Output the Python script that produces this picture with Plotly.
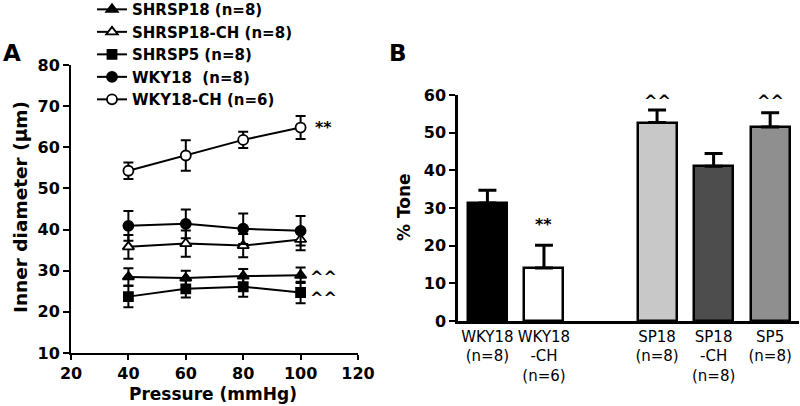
import plotly.graph_objects as go

# ---------- Panel A data ----------
pressure = [40, 60, 80, 100]
shrsp18 = [28.5, 28.2, 28.7, 28.9]
shrsp18_err = [2.1, 1.8, 1.7, 1.9]
shrsp18ch = [35.8, 36.6, 36.1, 37.6]
shrsp18ch_err = [2.9, 3.2, 2.8, 2.6]
shrsp5 = [23.7, 25.6, 26.1, 24.7]
shrsp5_err = [2.6, 2.1, 2.4, 2.6]
wky18 = [40.9, 41.4, 40.2, 39.7]
wky18_err = [3.6, 3.5, 3.7, 3.6]
wky18ch = [54.3, 58.0, 61.8, 64.8]
wky18ch_err = [2.0, 3.7, 2.0, 2.8]

# ---------- Panel B data ----------
bar_pos = [0, 1, 3, 4, 5]
bar_labels = ["WKY18<br>(n=8)", "WKY18<br>-CH<br>(n=6)", "SP18<br>(n=8)",
              "SP18<br>-CH<br>(n=8)", "SP5<br>(n=8)"]
tone = [31.3, 14.1, 52.7, 41.1, 51.5]
tone_err = [3.4, 6.0, 3.3, 3.4, 3.8]
bar_colors = ["#000000", "#ffffff", "#c8c8c8", "#4d4d4d", "#8f8f8f"]

FONT = "DejaVu Sans, Liberation Sans, Arial, sans-serif"

fig = go.Figure()

series = [
    ("SHRSP18 (n=8)", shrsp18, shrsp18_err, "triangle-up", "black"),
    ("SHRSP18-CH (n=8)", shrsp18ch, shrsp18ch_err, "triangle-up", "white"),
    ("SHRSP5 (n=8)", shrsp5, shrsp5_err, "square", "black"),
    ("WKY18\u00a0 (n=8)", wky18, wky18_err, "circle", "black"),
    ("WKY18-CH (n=6)", wky18ch, wky18ch_err, "circle", "white"),
]
for name, vals, errs, sym, fill in series:
    fig.add_trace(go.Scatter(
        x=pressure, y=vals, name=name, mode="lines+markers",
        line=dict(color="black", width=2),
        marker=dict(symbol=sym, size=10 if sym != "square" else 9, color=fill,
                    line=dict(color="black", width=1.8)),
        error_y=dict(type="data", array=errs, visible=True, color="black",
                     thickness=2, width=5),
        xaxis="x", yaxis="y",
    ))

fig.add_trace(go.Bar(
    x=bar_pos, y=tone, width=0.69, showlegend=False,
    marker=dict(color=bar_colors, line=dict(color="black", width=2.5)),
    error_y=dict(type="data", symmetric=False, array=tone_err,
                 arrayminus=[0] * len(tone_err), visible=True,
                 color="black", thickness=3, width=9),
    xaxis="x2", yaxis="y2",
))

axis_common = dict(showline=True, linecolor="black", linewidth=2, ticks="outside",
                   ticklen=6, tickwidth=2, tickcolor="black", showgrid=False,
                   zeroline=False, tickfont=dict(family=FONT, size=16, color="black", weight="bold"))

fig.update_layout(
    width=800, height=406, margin=dict(l=0, r=0, t=0, b=0, autoexpand=False),
    paper_bgcolor="white", plot_bgcolor="white",
    font=dict(family=FONT, color="black"),
    xaxis=dict(domain=[71 / 800, 358 / 800], range=[20, 120], tickvals=[20, 40, 60, 80, 100, 120],
               anchor="y", **axis_common),
    yaxis=dict(domain=[1 - 353 / 406, 1 - 65 / 406], range=[10, 80], tickvals=list(range(10, 81, 10)),
               anchor="x", **axis_common),
    xaxis2=dict(domain=[458 / 800, 799 / 800], range=[-0.52, 5.51], anchor="y2",
                tickvals=bar_pos, ticktext=bar_labels, tickangle=0, showline=True, linecolor="black",
                linewidth=2.5, ticks="", showgrid=False, zeroline=False,
                tickfont=dict(family=FONT, size=15, color="black")),
    yaxis2=dict(domain=[1 - 321 / 406, 1 - 95 / 406], range=[0, 60], tickvals=list(range(0, 61, 10)),
                anchor="x2", **axis_common),
    legend=dict(x=92 / 800, y=1.017, xanchor="left", yanchor="top", bgcolor="rgba(0,0,0,0)",
                font=dict(family=FONT, size=15, color="black", weight="bold"),
                tracegroupgap=0, itemwidth=30),
    bargap=0,
)
fig.update_xaxes(ticklen=5, selector=dict(anchor="y"))
fig.update_layout(yaxis2_linewidth=2.5)

P = "paper"
annots = [
    dict(text="<b>A</b>", x=12 / 800, y=1 - 53 / 406, xref=P, yref=P, size=23, angle=0),
    dict(text="<b>B</b>", x=398 / 800, y=1 - 53 / 406, xref=P, yref=P, size=23, angle=0),
    dict(text="<b>Inner diameter (μm)</b>", x=20 / 800, y=1 - 207 / 406, xref=P, yref=P, size=18.5, angle=-90),
    dict(text="<b>Pressure (mmHg)</b>", x=213 / 800, y=1 - 394 / 406, xref=P, yref=P, size=17, angle=0),
    dict(text="<b>% Tone</b>", x=404 / 800, y=1 - 207 / 406, xref=P, yref=P, size=17, angle=-90),
    dict(text="<b>**</b>", x=108, y=64.8, xref="x", yref="y", size=16, angle=0),
    dict(text="<b>^^</b>", x=108, y=28.5, xref="x", yref="y", size=16, angle=0),
    dict(text="<b>^^</b>", x=108, y=23.6, xref="x", yref="y", size=16, angle=0),
    dict(text="<b>**</b>", x=1, y=25.5, xref="x2", yref="y2", size=16, angle=0),
    dict(text="<b>^^</b>", x=3, y=1 - 100 / 406, xref="x2", yref=P, size=16, angle=0),
    dict(text="<b>^^</b>", x=5, y=1 - 100 / 406, xref="x2", yref=P, size=16, angle=0),
]
for a in annots:
    fig.add_annotation(text=a["text"], x=a["x"], y=a["y"], xref=a["xref"], yref=a["yref"],
                       showarrow=False, xanchor="center", yanchor="middle", textangle=a["angle"],
                       font=dict(family=FONT, size=a["size"], color="black"))

fig.write_html("out.html", config={"displayModeBar": False},
               post_script="document.body.style.margin='0';document.body.style.overflow='hidden';")
